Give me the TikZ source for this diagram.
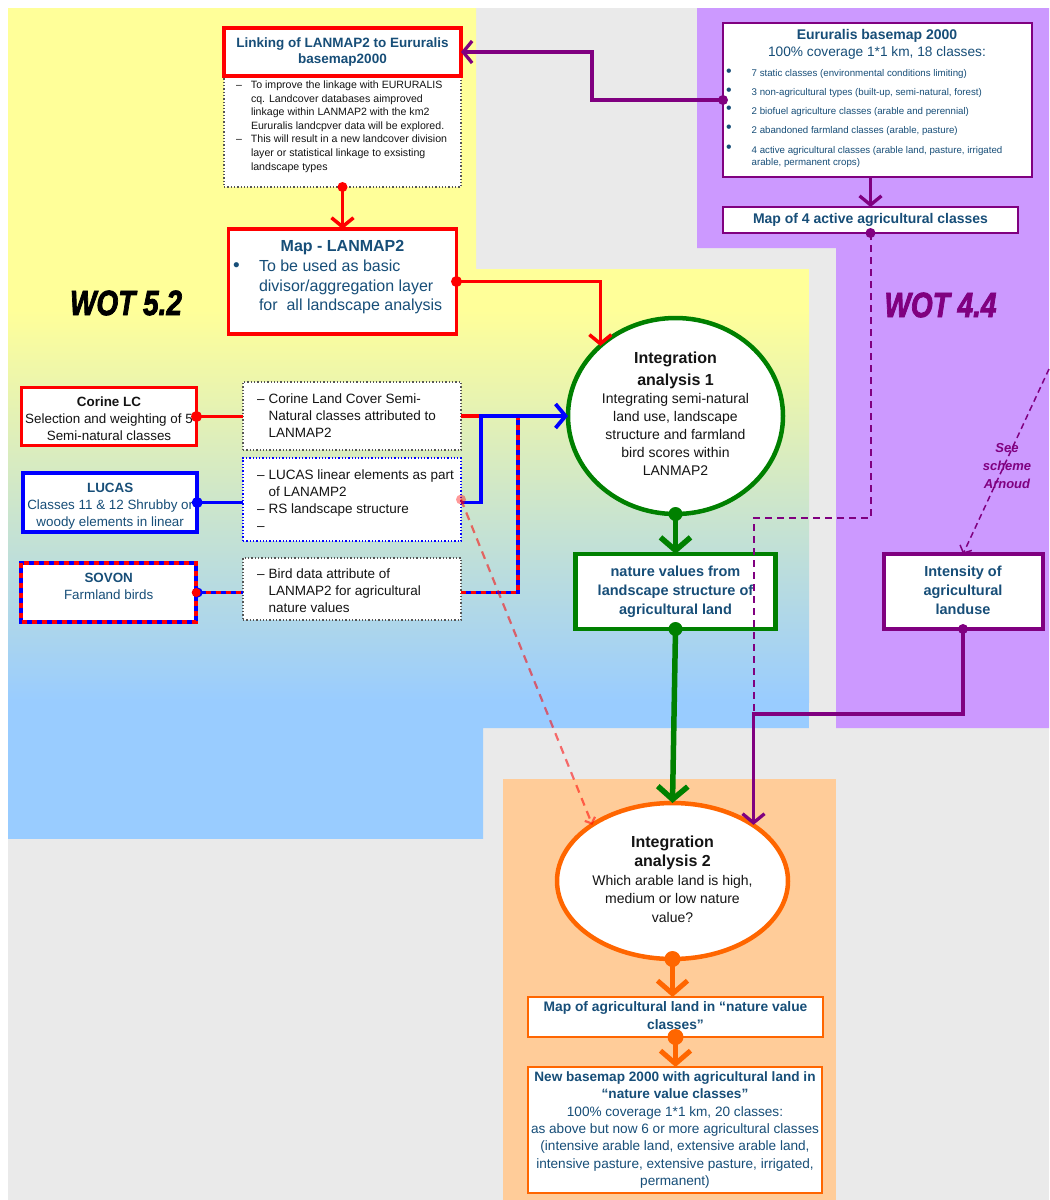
\documentclass[tikz,border=0pt]{standalone}
\usepackage{graphicx}
\usepackage{fontspec}
\setmainfont{Liberation Sans}
\newfontfamily\wotfont{Liberation Sans}[FakeBold=2.5]
\usetikzlibrary{arrows.meta,shapes.geometric,calc}
\definecolor{yel}{HTML}{FFFF99}
\definecolor{lblue}{HTML}{99CCFF}
\definecolor{bggray}{HTML}{EAEAEA}
\definecolor{lpurple}{HTML}{CC99FF}
\definecolor{lorange}{HTML}{FFCC99}
\definecolor{dblue}{RGB}{23,78,120}
\definecolor{purp}{HTML}{800080}
\definecolor{grn}{HTML}{008000}
\definecolor{orng}{HTML}{FF6600}
\definecolor{dgray}{HTML}{555555}
\definecolor{dtext}{RGB}{20,20,20}
\newcommand{\fs}[2]{\fontsize{#1}{#2}\selectfont}
\newcommand{\cstack}[1]{\begin{tabular}{@{}c@{}}#1\end{tabular}}
\newcommand{\lstack}[1]{\begin{tabular}[t]{@{}l@{}}#1\end{tabular}}
\newcommand{\dsh}{\makebox[11.6pt][l]{–}}
\newcommand{\dcn}{\hspace*{11.6pt}}
\newcommand{\ldsh}{\makebox[15pt][l]{–}}
\newcommand{\ldcn}{\hspace*{15pt}}
\newcommand{\eb}{\makebox[25.7pt][l]{\raisebox{0.6pt}{\fs{16}{12}•}}}
\newcommand{\ebc}{\hspace*{25.7pt}}
\begin{document}
\begin{tikzpicture}[x=1pt,y=-1pt,
  every node/.style={inner sep=0pt, outer sep=0pt},
  redbox/.style={draw=red, line width=3.5pt, fill=white},
  bluebox/.style={draw=blue, line width=3.5pt, fill=white},
  dotbox/.style={draw=dgray, line width=1.3pt, dotted, fill=white},
  bdotbox/.style={draw=blue, line width=1.3pt, dotted, fill=white},
  pbox/.style={draw=purp, line width=1.5pt, fill=white},
  pboxthick/.style={draw=purp, line width=4pt, fill=white},
  gbox/.style={draw=grn, line width=4.5pt, fill=white},
  obox/.style={draw=orng, line width=2pt, fill=white},
  redc/.style={draw=red, line width=3.5pt, -{Straight Barb[length=9pt,width=22pt]}},
  purpc/.style={draw=purp, line width=3.3pt, -{Straight Barb[length=9pt,width=22pt]}},
  purpdash/.style={draw=purp, line width=2pt, dash pattern=on 7pt off 5pt},
  grnc/.style={draw=grn, line width=5.5pt, -{Straight Barb[length=13pt,width=30pt]}},
  orngc/.style={draw=orng, line width=5pt, -{Straight Barb[length=13pt,width=30pt]}},
  redl/.style={draw=red, line width=3.8pt},
  bluel/.style={draw=blue, line width=3.8pt},
  rbdash/.style={draw=red, line width=3.8pt, dash pattern=on 5pt off 5pt},
  wot/.style={font=\wotfont\bfseries\itshape\fs{35}{35}}
]
% ---------- backgrounds ----------
\fill[white] (0,0) rectangle (1049,1200);
\fill[bggray] (8,8) rectangle (1049,1200);
\begin{scope}
  \clip (8,8) -- (476,8) -- (476,269) -- (809,269) -- (809,728) -- (483,728) -- (483,839) -- (8,839) -- cycle;
  \fill[yel] (8,8) rectangle (809,312);
  \shade[top color=yel, bottom color=lblue] (8,310) rectangle (809,702);
  \fill[lblue] (8,700) rectangle (809,839);
\end{scope}
\fill[lpurple] (697,8) -- (1049,8) -- (1049,728) -- (836,728) -- (836,248) -- (697,248) -- cycle;
\fill[lorange] (503,779) rectangle (836,1200);

% ---------- labels ----------
\node[wot] (wot52) at (126,303) {\scalebox{0.8}[1]{WOT 5.2}};
\node[wot, text=purp] (wot44) at (940.5,305) {\scalebox{0.8}[1]{WOT 4.4}};

% ---------- top left ----------
\node[dotbox, minimum width=237pt, minimum height=111pt] (linkd) at (342.5,131.5) {};
\node[anchor=base west, text=dtext] (linkdt) at (236,88.5) {\fs{10.6}{13.6}\lstack{%
\ldsh To improve the linkage with EURURALIS\\
\ldcn cq. Landcover databases aimproved\\
\ldcn linkage within LANMAP2 with the km2\\
\ldcn Eururalis landcpver data will be explored.\\
\ldsh This will result in a new landcover division\\
\ldcn layer or statistical linkage to exsisting\\
\ldcn landscape types}};
\node[redbox, minimum width=237pt, minimum height=48pt] (link) at (342.5,52)
  {\fs{13.5}{16}\bfseries\color{dblue}\cstack{Linking of LANMAP2 to Eururalis\\basemap2000}};

\node[redbox, minimum width=228pt, minimum height=105pt] (maplan) at (342.5,281.5) {};
\node[anchor=base, text=dblue] (maplant) at (342.5,251.5) {\fs{16}{20}\bfseries Map - LANMAP2};
\node[anchor=base west, text=dblue] (maplanb) at (233,271.5) {\fs{16}{19.5}\lstack{%
\makebox[26pt][l]{\raisebox{0.5pt}{\fs{19}{19}•}}To be used as basic\\
\hspace*{26pt}divisor/aggregation layer\\
\hspace*{26pt}for\ \ all landscape analysis}};

% ---------- top right ----------
\node[pbox, minimum width=309pt, minimum height=154pt] (eur) at (877.5,100) {};
\node[anchor=base, text=dblue] (eurt1) at (877,39.3) {\fs{14}{16}\bfseries Eururalis basemap 2000};
\node[anchor=base, text=dblue] (eurt2) at (877,56.7) {\fs{13.7}{16}100\% coverage 1*1 km, 18 classes:};
\node[anchor=base west, text=dblue] (eurb) at (726,76.7) {\fs{9.7}{12.4}\lstack{%
\eb 7 static classes (environmental conditions limiting)\\[6.6pt]
\eb 3 non-agricultural types (built-up, semi-natural, forest)\\[6.2pt]
\eb 2 biofuel agriculture classes (arable and perennial)\\[6.6pt]
\eb 2 abandoned farmland classes (arable, pasture)\\[7.6pt]
\eb 4 active agricultural classes (arable land, pasture, irrigated\\
\ebc arable, permanent crops)}};
\node[pbox, minimum width=295pt, minimum height=26pt] (map4) at (870.5,220)
  {\fs{14}{16}\bfseries\color{dblue}Map of 4 active agricultural classes};

% ---------- left column ----------
\node[redbox, minimum width=175pt, minimum height=58pt] (corine) at (109,416.5)
  {\fs{13.4}{17}\color{dtext}\raisebox{-3.5pt}[\height][\depth]{\cstack{{\bfseries Corine LC}\\Selection and weighting of 5\\Semi-natural classes}}};
\node[bluebox, minimum width=174pt, minimum height=59pt] (lucas) at (110.2,502.5)
  {\fs{13.4}{17}\color{dblue}\raisebox{-4pt}[\height][\depth]{\cstack{{\bfseries LUCAS}\\Classes 11 \& 12 Shrubby or\\woody elements in linear}}};
\node[bluebox, minimum width=175pt, minimum height=59pt] (sovon) at (108.7,592.5)
  {\fs{13.4}{17}\color{dblue}\cstack{{\bfseries SOVON}\\Farmland birds\\[-8pt]\mbox{}}};
\draw[red, line width=3.5pt, dash pattern=on 5pt off 5pt] (sovon.north west) rectangle (sovon.south east);

\node[dotbox, minimum width=218pt, minimum height=68pt] (d1) at (352,416) {};
\node[anchor=base west, text=dtext] (d1t) at (257,403.3) {\fs{13.5}{17}\lstack{%
\dsh Corine Land Cover Semi-\\ \dcn Natural classes attributed to\\ \dcn LANMAP2}};
\node[bdotbox, minimum width=218pt, minimum height=83pt] (d2) at (352,499.5) {};
\node[anchor=base west, text=dtext] (d2t) at (257,479.3) {\fs{13.5}{17}\lstack{%
\dsh LUCAS linear elements as part\\ \dcn of LANAMP2\\ \dsh RS landscape structure\\ \dsh}};
\node[dotbox, minimum width=218pt, minimum height=62pt] (d3) at (352,589) {};
\node[anchor=base west, text=dtext] (d3t) at (257,578.3) {\fs{13.5}{17}\lstack{%
\dsh Bird data attribute of\\ \dcn LANMAP2 for agricultural\\ \dcn nature values}};

% ---------- middle ----------
\node[ellipse, draw=grn, line width=4.5pt, fill=white, minimum width=215pt, minimum height=196pt] (int1) at (675.5,416)
  {\fs{14}{18}\color{dtext}\cstack{{\fs{16}{18}\bfseries Integration}\\[3.7pt]{\fs{16}{18}\bfseries analysis 1}\\[0.3pt]
   Integrating semi-natural\\land use, landscape\\structure and farmland\\bird scores within\\LANMAP2}};
\node[gbox, minimum width=200pt, minimum height=75pt] (nv) at (675.5,591.5)
  {\fs{14.5}{19}\bfseries\color{dblue}\cstack{nature values from\\landscape structure of\\agricultural land}};
\node[pboxthick, minimum width=159pt, minimum height=75pt] (intens) at (963,591.5)
  {\fs{14.5}{19}\bfseries\color{dblue}\cstack{Intensity of\\agricultural\\landuse}};

% ---------- bottom ----------
\node[ellipse, draw=orng, line width=4.5pt, fill=white, minimum width=231pt, minimum height=156pt] (int2) at (672.5,881)
  {\fs{14}{18.5}\color{dtext}\cstack{{\fs{16}{18}\bfseries Integration}\\[1pt]{\fs{16}{18}\bfseries analysis 2}\\
   Which arable land is high,\\medium or low nature\\value?}};
\node[obox, minimum width=295pt, minimum height=40pt] (agmap) at (675.5,1017)
  {\fs{13.8}{18}\bfseries\color{dblue}\cstack{Map of agricultural land in “nature value\\classes”}};
\node[obox, minimum width=294pt, minimum height=126pt] (newmap) at (675,1130)
  {\fs{13.6}{17.3}\color{dblue}\cstack{{\bfseries New basemap 2000 with agricultural land in}\\{\bfseries “nature value classes”}\\
   100\% coverage 1*1 km, 20 classes:\\as above but now 6 or more agricultural classes\\
   (intensive arable land, extensive arable land,\\intensive pasture, extensive pasture, irrigated,\\permanent)}};

% ---------- connectors ----------
\coordinate (jb) at (481,416);
\coordinate (jr) at (518,416);
\coordinate (pk) at (753.5,518);
\coordinate (pj) at (753.5,714);
\coordinate (seestart) at (1049,369);

\draw[redc] (linkd.south) -- (maplan.north);
\fill[red] (linkd.south) circle[radius=5pt];
\draw[redc] (maplan.east) -| (int1.137);
\fill[red] (maplan.east) circle[radius=5.5pt];

\draw[purpc] (eur.west) -- ++(-131,0) |- (link.east);
\fill[purp] (eur.west) circle[radius=5pt];
\draw[purpc] (eur.south -| map4.north) -- (map4.north);
\draw[purpdash] (map4.south) |- (pk) -- (pj);
\fill[purp] (map4.south) circle[radius=5pt];
\draw[purpc] (intens.south) |- (pj) -- (int2.35 -| pj);
\fill[purp] (intens.south) circle[radius=5pt];
\draw[purp, line width=1.5pt, dash pattern=on 6pt off 4pt, -{Straight Barb[length=6pt,width=13pt]}] (seestart) -- (intens.north);
\node[text=purp] (see) at (1007,467) {\fs{13}{18}\bfseries\itshape\cstack{See\\scheme\\Arnoud}};

\draw[grnc] (int1.south) -- (nv.north);
\fill[grn] (int1.south) circle[radius=7pt];
\draw[grnc] (nv.south) -- (int2.north);
\fill[grn] (nv.south) circle[radius=7pt];

\draw[orngc] (int2.south) -- (int2.south |- agmap.north);
\fill[orng] (int2.south) circle[radius=8pt];
\draw[orngc] (agmap.south) -- (agmap.south |- newmap.north);
\fill[orng] (agmap.south) circle[radius=8pt];

% left connectors
\draw[redl] (corine.east) -- (corine.east -| d1.west);
\fill[red] (corine.east) circle[radius=5.5pt];
\draw[bluel] (lucas.east) -- (lucas.east -| d2.west);
\fill[blue] (lucas.east) circle[radius=5.5pt];
\draw[bluel] (sovon.east) -- (sovon.east -| d3.west);
\draw[rbdash] (sovon.east) -- (sovon.east -| d3.west);
\fill[blue] ($(sovon.east)+(1.5,0)$) circle[radius=5pt];
\fill[red] (sovon.east) circle[radius=4.5pt];

\draw[redl] (d1.east) -- (jb);
\draw[bluel] (sovon.east -| d3.east) -| (jr);
\draw[rbdash] (sovon.east -| d3.east) -| (jr);
\draw[bluel, -{Straight Barb[length=10pt,width=24pt]}] (lucas.east -| d2.east) -| (jb) -- (int1.west);

\draw[red, opacity=0.55, line width=2.2pt, dash pattern=on 8pt off 6pt, -{Straight Barb[length=5pt,width=11pt]}] (d2.east) -- (int2.145);
\fill[red, opacity=0.4] (d2.east) circle[radius=5pt];
\end{tikzpicture}
\end{document}
